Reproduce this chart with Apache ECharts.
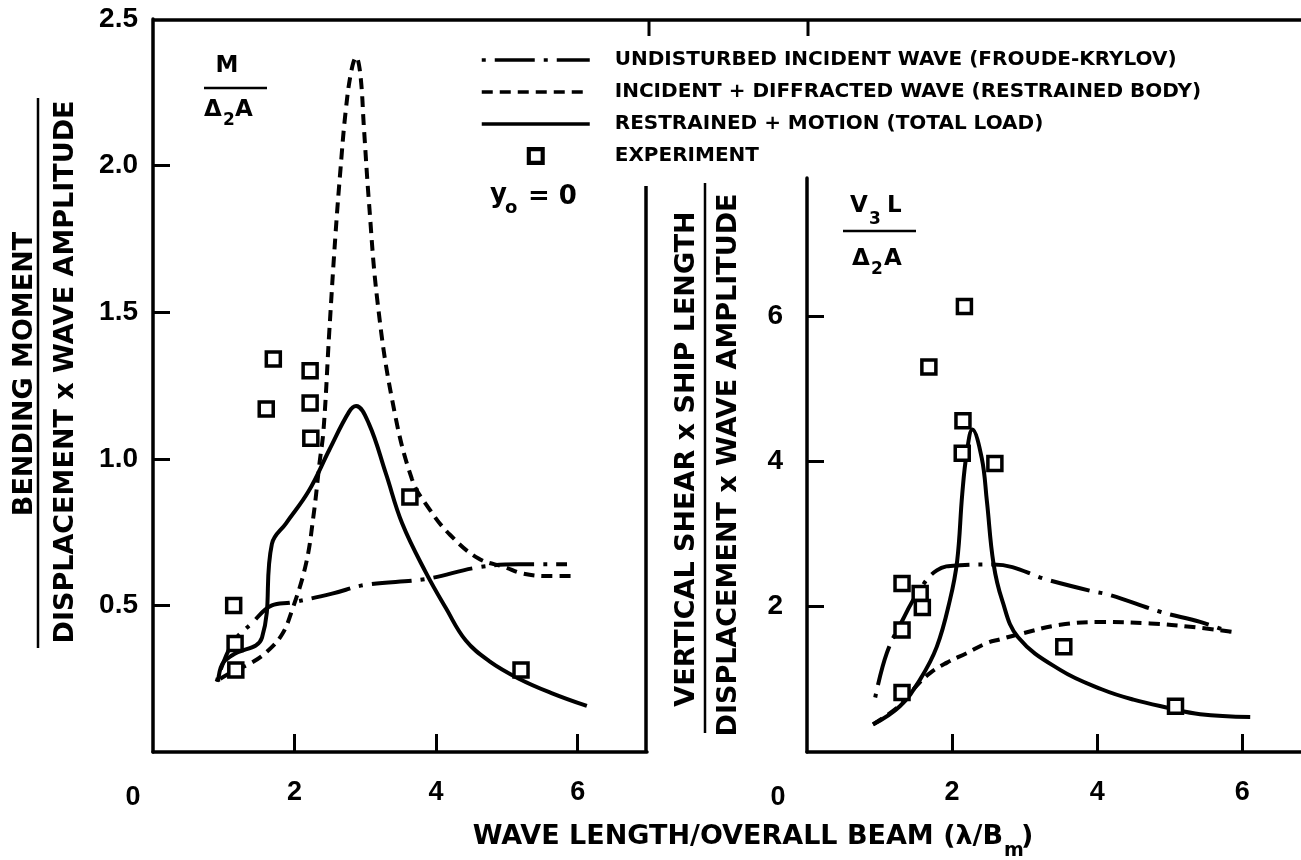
<!DOCTYPE html>
<html>
<head>
<meta charset="utf-8">
<style>
  html, body { margin: 0; padding: 0; background: #fff; }
  #chart { width: 1301px; height: 860px; }
</style>
<script src="https://cdn.jsdelivr.net/npm/echarts@6/dist/echarts.min.js"></script>
</head>
<body>
<div id="chart"></div>
<script>
// legend names
const seriesNames = [
  'UNDISTURBED INCIDENT WAVE (FROUDE-KRYLOV)',
  'INCIDENT + DIFFRACTED WAVE (RESTRAINED BODY)',
  'RESTRAINED + MOTION (TOTAL LOAD)',
  'EXPERIMENT'
]

// bending moment panel (left)
const bmFkX = [0.9, 1.12, 1.4, 1.68, 1.96, 2.53, 3.0, 3.85, 4.6, 5.17, 5.85]
const bmFkY = [0.24, 0.37, 0.44, 0.50, 0.51, 0.54, 0.57, 0.59, 0.63, 0.64, 0.64]
const bmDifX = [0.95, 1.17, 1.36, 1.6, 1.82, 1.96, 2.16, 2.27, 2.35, 2.41, 2.49, 2.58, 2.65, 2.72, 2.80, 2.87, 2.93, 2.98, 3.05, 3.17, 3.38, 3.66, 3.9, 4.2, 4.6, 4.98, 5.2, 5.55, 5.97]
const bmDifY = [0.25, 0.28, 0.30, 0.34, 0.40, 0.48, 0.64, 0.81, 0.98, 1.10, 1.43, 1.77, 1.99, 2.18, 2.32, 2.37, 2.31, 2.13, 1.88, 1.54, 1.20, 0.93, 0.83, 0.74, 0.66, 0.63, 0.61, 0.60, 0.60]
const bmTotX = [0.92, 0.98, 1.12, 1.54, 1.68, 1.88, 2.2, 2.49, 2.77, 2.87, 3.05, 3.29, 3.52, 3.86, 4.14, 4.42, 4.75, 5.17, 5.64, 6.13]
const bmTotY = [0.24, 0.30, 0.33, 0.39, 0.71, 0.78, 0.89, 1.03, 1.16, 1.18, 1.12, 0.95, 0.78, 0.61, 0.49, 0.38, 0.31, 0.25, 0.20, 0.157]
const bmExpX = [1.14, 1.16, 1.17, 1.60, 1.70, 2.22, 2.22, 2.23, 3.63, 5.20]
const bmExpY = [0.50, 0.37, 0.28, 1.17, 1.34, 1.30, 1.19, 1.07, 0.87, 0.28]

// vertical shear panel (right)
const vsFkX = [0.94, 1.1, 1.32, 1.52, 1.79, 2.11, 2.57, 3.35, 3.9, 4.18, 4.87, 5.42, 5.83]
const vsFkY = [0.75, 1.36, 1.82, 2.18, 2.5, 2.57, 2.58, 2.36, 2.22, 2.16, 1.93, 1.79, 1.65]
const vsDifX = [0.91, 1.28, 1.50, 1.70, 1.93, 2.2, 2.48, 2.66, 2.88, 3.49, 4.07, 4.73, 5.32, 5.88]
const vsDifY = [0.38, 0.64, 0.90, 1.09, 1.23, 1.36, 1.50, 1.55, 1.61, 1.75, 1.79, 1.77, 1.72, 1.65]
const vsTotX = [0.91, 1.28, 1.56, 1.79, 1.97, 2.07, 2.14, 2.2, 2.28, 2.41, 2.48, 2.57, 2.69, 2.91, 3.49, 4.07, 4.5, 4.97, 5.42, 6.11]
const vsTotY = [0.38, 0.63, 1.0, 1.45, 2.09, 2.63, 3.55, 4.1, 4.44, 4.04, 3.45, 2.6, 2.09, 1.58, 1.13, 0.86, 0.72, 0.61, 0.52, 0.48]
const vsExpX = [1.31, 1.31, 1.31, 1.56, 1.59, 1.68, 2.14, 2.15, 2.17, 2.59, 3.54, 5.08]
const vsExpY = [0.82, 1.68, 2.32, 2.18, 1.99, 5.30, 4.11, 4.56, 6.13, 3.97, 1.45, 0.63]

// ticks / labels
const xTicks = [2, 4, 6]
const xLabels = [0, 2, 4, 6]
const bmYTicks = [0.5, 1.0, 1.5, 2.0]
const bmYLabels = [0.5, 1.0, 1.5, 2.0, 2.5]
const vsYTicks = [2, 4, 6]

const BLACK = '#000'
const TITLE_FONT = 'DejaVu Sans'
const NUM_FONT = 'Liberation Sans'
const DASH = [11, 7]
const DASH_DOT = [40, 9, 4, 9]

const pair = (xs, ys) => xs.map((x, i) => [x, ys[i]])

function lineSeries(name, data, dash, gi) {
  return {
    name: name,
    type: 'line',
    xAxisIndex: gi,
    yAxisIndex: gi,
    data: data,
    symbol: 'none',
    smooth: 0.4,
    silent: true,
    lineStyle: { color: BLACK, width: 4, type: dash, dashOffset: dash === DASH_DOT ? 49 : 0 },
    itemStyle: { color: 'transparent', borderColor: 'transparent', borderWidth: 0 },
    z: 3
  }
}

function expSeries(data, gi) {
  return {
    name: seriesNames[3],
    type: 'scatter',
    xAxisIndex: gi,
    yAxisIndex: gi,
    data: data,
    symbol: 'rect',
    symbolSize: 14,
    silent: true,
    itemStyle: { color: '#fff', borderColor: BLACK, borderWidth: 3.5, opacity: 1 },
    z: 5
  }
}

function xAxis(gi, max, zeroShift) {
  return {
    gridIndex: gi,
    type: 'value',
    min: 0,
    max: max,
    splitLine: { show: false },
    axisLine: { lineStyle: { color: BLACK, width: 3.5 } },
    axisTick: { inside: true, length: 18, customValues: xTicks, lineStyle: { color: BLACK, width: 3 } },
    axisLabel: {
      customValues: xLabels,
      margin: 27,
      color: BLACK,
      fontFamily: NUM_FONT,
      fontWeight: 'bold',
      fontSize: 27,
      formatter: v => (v === 0 ? '{z|0}' : String(v)),
      rich: {
        z: { padding: [5, zeroShift * 2, 0, 0], color: BLACK, fontFamily: NUM_FONT, fontWeight: 'bold', fontSize: 27 }
      }
    }
  }
}

function yAxis(gi, max, ticks, labels, margin, fmt) {
  return {
    gridIndex: gi,
    type: 'value',
    min: 0,
    max: max,
    splitLine: { show: false },
    axisLine: { lineStyle: { color: BLACK, width: 3.5 } },
    axisTick: { inside: true, length: 17, customValues: ticks, lineStyle: { color: BLACK, width: 3 } },
    axisLabel: {
      customValues: labels,
      margin: margin,
      color: BLACK,
      fontFamily: NUM_FONT,
      fontWeight: 'bold',
      fontSize: 28,
      formatter: fmt
    }
  }
}

function line(x1, y1, x2, y2, w) {
  return { type: 'line', shape: { x1, y1, x2, y2 }, style: { stroke: BLACK, lineWidth: w || 3.5 }, silent: true }
}

function text(x, y, str, size, align, rot) {
  return {
    type: 'text', x: x, y: y, rotation: rot || 0, silent: true,
    style: {
      text: str, fill: BLACK,
      font: 'bold ' + size + 'px "' + TITLE_FONT + '"',
      align: align || 'center', textAlign: align || 'center',
      verticalAlign: 'middle', textVerticalAlign: 'middle'
    }
  }
}

const chart = echarts.init(document.getElementById('chart'))

chart.setOption({
  animation: false,
  backgroundColor: '#fff',
  grid: [
    { left: 153, top: 19, width: 494, height: 733 },
    { left: 807, top: 178, width: 494, height: 574 }
  ],
  xAxis: [xAxis(0, 6.98, 20), xAxis(1, 6.81, 29)],
  yAxis: [
    yAxis(0, 2.5, bmYTicks, bmYLabels, 15, v => v.toFixed(1)),
    yAxis(1, 7.9, vsYTicks, vsYTicks, 24, v => String(v))
  ],
  legend: {
    orient: 'vertical',
    left: 475,
    top: 45,
    itemWidth: 108,
    itemHeight: 18,
    itemGap: 12,
    selectedMode: false,
    lineStyle: { width: 3.5 },
    data: [
      { name: seriesNames[0] },
      { name: seriesNames[1] },
      { name: seriesNames[2] },
      {
        name: seriesNames[3],
        icon: 'path://M0,0H10V10H0Z M2.3,2.3V7.7H7.7V2.3Z',
        itemStyle: { color: BLACK, borderWidth: 0 }
      }
    ],
    formatter: n => '{t|' + n + '}',
    textStyle: {
      color: BLACK,
      fontFamily: TITLE_FONT,
      fontWeight: 'bold',
      fontSize: 20,
      rich: {
        t: { padding: [0, 0, 0, 20], color: BLACK, fontFamily: TITLE_FONT, fontWeight: 'bold', fontSize: 20, lineHeight: 20 }
      }
    }
  },
  graphic: [
    // frame pieces
    line(152, 20, 1301, 20),
    line(649, 20, 649, 36, 3),
    line(808, 20, 808, 36, 3),
    line(646, 186, 646, 752),
    // axis title fraction bars
    line(38, 98, 38, 648, 2.5),
    line(705, 183, 705, 733, 2.5),
    line(204, 88, 267, 88, 2.5),
    line(843, 231, 916, 231, 2.5),
    // axis titles
    text(25, 374, 'BENDING MOMENT', 27, 'center', Math.PI / 2),
    text(66, 372, 'DISPLACEMENT x WAVE AMPLITUDE', 27, 'center', Math.PI / 2),
    text(687, 459, 'VERTICAL SHEAR x SHIP LENGTH', 27, 'center', Math.PI / 2),
    text(729, 465, 'DISPLACEMENT x WAVE AMPLITUDE', 27, 'center', Math.PI / 2),
    text(1003, 837, 'WAVE LENGTH/OVERALL BEAM (\u03bb/B', 27, 'right'),
    text(1004, 851, 'm', 19, 'left'),
    text(1021, 837, ')', 27, 'left'),
    // M / Δ2A
    text(227, 66, 'M', 23),
    text(204, 110, '\u0394', 23, 'left'),
    text(223, 121, '2', 17, 'left'),
    text(235, 110, 'A', 23, 'left'),
    // y0 = 0
    text(490, 195, 'y', 26, 'left'),
    text(505, 208, 'o', 18, 'left'),
    text(528, 197, '= 0', 26, 'left'),
    // V3L / Δ2A
    text(850, 206, 'V', 23, 'left'),
    text(869, 220, '3', 17, 'left'),
    text(887, 206, 'L', 23, 'left'),
    text(852, 259, '\u0394', 23, 'left'),
    text(871, 270, '2', 17, 'left'),
    text(884, 259, 'A', 23, 'left')
  ],
  series: [
    lineSeries(seriesNames[0], pair(bmFkX, bmFkY), DASH_DOT, 0),
    lineSeries(seriesNames[1], pair(bmDifX, bmDifY), DASH, 0),
    lineSeries(seriesNames[2], pair(bmTotX, bmTotY), 'solid', 0),
    expSeries(pair(bmExpX, bmExpY), 0),
    lineSeries(seriesNames[0], pair(vsFkX, vsFkY), DASH_DOT, 1),
    lineSeries(seriesNames[1], pair(vsDifX, vsDifY), DASH, 1),
    lineSeries(seriesNames[2], pair(vsTotX, vsTotY), 'solid', 1),
    expSeries(pair(vsExpX, vsExpY), 1)
  ]
})
</script>
</body>
</html>
